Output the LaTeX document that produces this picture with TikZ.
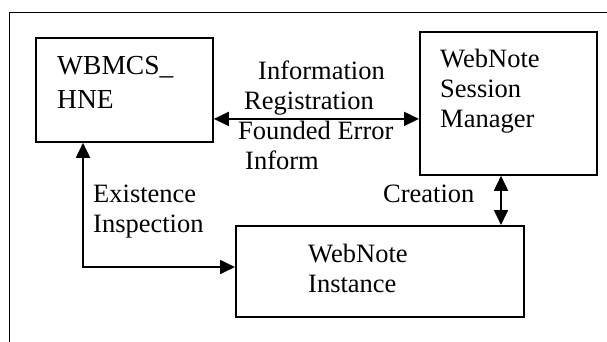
\documentclass[tikz,border=0pt]{standalone}
\usepackage{fontspec}
\setmainfont{Liberation Serif}
\usetikzlibrary{arrows.meta,calc}
\begin{document}
\begin{tikzpicture}[x=1pt,y=-1pt,
  box/.style={draw,line width=1.8pt,inner sep=0pt,anchor=north west},
  txt/.style={inner sep=0pt,anchor=north west,align=left,
    font=\fontsize{26.5}{30}\selectfont},
  conn/.style={line width=1.7pt},
  tip/.tip={Triangle[length=15pt,width=14pt]}]
\useasboundingbox (0,0) rectangle (607,341);
% outer frame (open to the right and bottom)
\draw[line width=1.5pt] (9.7,345) -- (9.7,12.7) -- (612,12.7);
% boxes
\node[box,minimum width=177pt,minimum height=104pt] (wb) at (35,37) {};
\node[box,minimum width=177pt,minimum height=143pt] (sm) at (419,31) {};
\node[box,minimum width=288pt,minimum height=91pt] (inst) at (235,225) {};
% box texts
\node[txt,font=\fontsize{27.5}{34}\selectfont] (wbt) at (57,56.5) {WBMCS\_\\HNE};
\node[txt] (smt) at (440,48.6) {WebNote\\Session\\Manager};
\node[txt] (instt) at (308,244) {WebNote\\Instance};
% connector labels
\node[txt] (info) at (238,61) {\hspace*{20pt}Information\\\hspace*{6pt}Registration\\Founded Error\\\hspace*{7pt}Inform};
\node[txt] (exist) at (93,184.5) {Existence\\Inspection};
\node[txt,anchor=base west] (crea) at (383,202) {Creation};
% connectors
\coordinate (corner) at (83,267);
\coordinate (cx) at (501,0);
\draw[conn,{tip}-{tip}] ([yshift=-29pt]wb.east) -- ([yshift=-29pt]wb.east -| sm.west);
\draw[conn,{tip}-{tip}] (corner |- wb.south) -- (corner) -- (corner -| inst.west);
\draw[conn,{tip}-{tip}] (cx |- sm.south) -- (cx |- inst.north);
\end{tikzpicture}
\end{document}
